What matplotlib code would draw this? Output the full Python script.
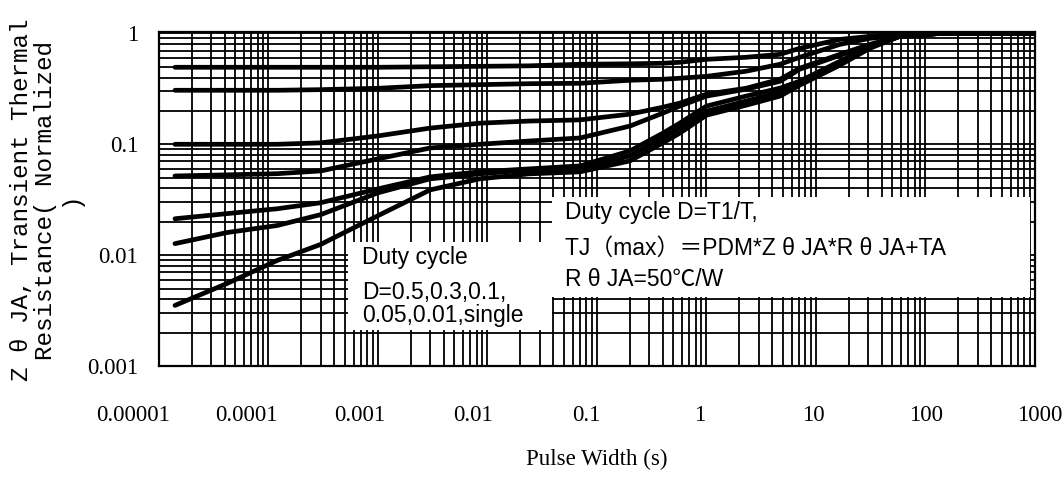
import matplotlib
matplotlib.use("Agg")
import matplotlib.pyplot as plt
from matplotlib.patches import Rectangle
from matplotlib.ticker import LogLocator, NullFormatter

# ---- data ----
pulse_width = [1.4e-5, 4.2e-5, 1.2e-4, 3e-4, 1e-3, 3e-3, 8.5e-3, 0.024, 0.07, 0.2,
               0.4, 0.57, 1.0, 2.3, 4.7, 7.1, 16.5, 31, 58, 135, 1000]
z_d05 = [0.495, 0.495, 0.495, 0.495, 0.495, 0.50, 0.505, 0.51, 0.527, 0.532,
         0.538, 0.549, 0.584, 0.609, 0.648, 0.733, 0.883, 0.94, 0.98, 1.0, 1.0]
z_d03 = [0.307, 0.307, 0.307, 0.311, 0.32, 0.338, 0.345, 0.352, 0.355, 0.378,
         0.386, 0.394, 0.41, 0.456, 0.527, 0.609, 0.796, 0.902, 0.96, 1.0, 1.0]
z_d01 = [0.1, 0.1, 0.1, 0.103, 0.119, 0.14, 0.155, 0.162, 0.166, 0.187,
         0.216, 0.235, 0.283, 0.32, 0.386, 0.485, 0.647, 0.796, 0.94, 1.0, 1.0]
z_d005 = [0.0518, 0.053, 0.0543, 0.0575, 0.0739, 0.0926, 0.1, 0.107, 0.114, 0.146,
          0.191, 0.221, 0.272, 0.314, 0.37, 0.475, 0.634, 0.78, 0.94, 1.0, 1.0]
z_d002 = [0.0213, 0.0237, 0.0262, 0.0297, 0.0396, 0.0508, 0.0564, 0.060, 0.0638, 0.0871,
          0.126, 0.155, 0.221, 0.272, 0.321, 0.371, 0.56, 0.764, 0.94, 1.0, 1.0]
z_d001 = [0.0127, 0.016, 0.0185, 0.0232, 0.0365, 0.0488, 0.0541, 0.0588, 0.060, 0.0785,
          0.114, 0.14, 0.199, 0.245, 0.295, 0.356, 0.538, 0.748, 0.94, 1.0, 1.0]
z_single = [0.00352, 0.00556, 0.00895, 0.0125, 0.0227, 0.0388, 0.0488, 0.0541, 0.0564, 0.0708,
            0.103, 0.126, 0.183, 0.225, 0.272, 0.341, 0.516, 0.733, 0.94, 1.0, 1.0]

x_tick_labels = ["0.00001", "0.0001", "0.001", "0.01", "0.1", "1", "10", "100", "1000"]
y_ticks = [0.001, 0.01, 0.1, 1]
y_tick_labels = ["0.001", "0.01", "0.1", "1"]

box1_lines = ["Duty cycle", "D=0.5,0.3,0.1,", "0.05,0.01,single"]
box2_lines = ["Duty cycle D=T1/T,", "TJ（max）＝PDM*Z θ JA*R θ JA+TA", "R θ JA=50℃/W"]

# ---- figure ----
fig = plt.figure(figsize=(10.64, 4.79), dpi=100)
ax = fig.add_axes([0.1494, 0.2359, 0.8233, 0.6973])
ax.set_xscale("log")
ax.set_yscale("log")
ax.set_xlim(1e-5, 1e3)
ax.set_ylim(1e-3, 1.03)

ax.xaxis.set_minor_locator(LogLocator(base=10, subs=range(2, 10), numticks=20))
ax.yaxis.set_minor_locator(LogLocator(base=10, subs=range(2, 10), numticks=20))
ax.xaxis.set_minor_formatter(NullFormatter())
ax.yaxis.set_minor_formatter(NullFormatter())
ax.grid(True, which="both", color="black", linewidth=1.3)
ax.set_axisbelow(True)

for s in ax.spines.values():
    s.set_linewidth(1.6)
    s.set_color("black")

tick_font = ["Liberation Serif", "DejaVu Serif"]

ax.set_xticks([1e-5, 1e-4, 1e-3, 1e-2, 1e-1, 1, 10, 100, 1000])
ax.set_xticklabels([])
ax.tick_params(axis="both", which="both", length=0)
ax.set_yticks(y_ticks)
ax.set_yticklabels(y_tick_labels, fontsize=16.5, family=tick_font)
ax.tick_params(axis="y", pad=15)

# x tick labels (placed as in the reference, slightly offset from the grid)
for i, lab in enumerate(x_tick_labels):
    ax.text(-0.0297 + i * 0.1294, -0.147, lab, transform=ax.transAxes,
            ha="center", va="center", fontsize=16.5, family=tick_font,
            clip_on=False)

ax.text(0.5, -0.281, "Pulse Width (s)", transform=ax.transAxes, ha="center",
        va="center", fontsize=16.5, family=tick_font)

fig.text(46 / 1064, 1 - 200 / 479,
         "Z θ JA, Transient Thermal\nResistance( Normalized\n)",
         rotation=90, ha="center", va="center", multialignment="center",
         fontsize=17.5, family=["Liberation Mono", "DejaVu Sans Mono"], linespacing=1.1)

for z in [z_d05, z_d03, z_d01, z_d005, z_d002, z_d001, z_single]:
    ax.plot(pulse_width, z, color="black", linewidth=3.4,
            solid_capstyle="round", solid_joinstyle="round", zorder=3)

# annotation boxes
ax.add_patch(Rectangle((0.2158, 0.1078), 0.2329, 0.2635, transform=ax.transAxes,
                       facecolor="white", edgecolor="none", zorder=4))
ax.add_patch(Rectangle((0.4486, 0.2066), 0.5457, 0.2994, transform=ax.transAxes,
                       facecolor="white", edgecolor="none", zorder=4))

fam = ["Liberation Sans", "Noto Sans CJK SC", "DejaVu Sans"]
for y, t in zip([0.3234, 0.2186, 0.1527], box1_lines):
    ax.text(0.2317, y, t, transform=ax.transAxes, ha="left", va="center",
            fontsize=16.5, family=fam, zorder=5)
for y, t in zip([0.4581, 0.3533, 0.2575], box2_lines):
    ax.text(0.4635, y, t, transform=ax.transAxes, ha="left", va="center",
            fontsize=16.5, family=fam, zorder=5)

fig.savefig("out.png", dpi=100)
